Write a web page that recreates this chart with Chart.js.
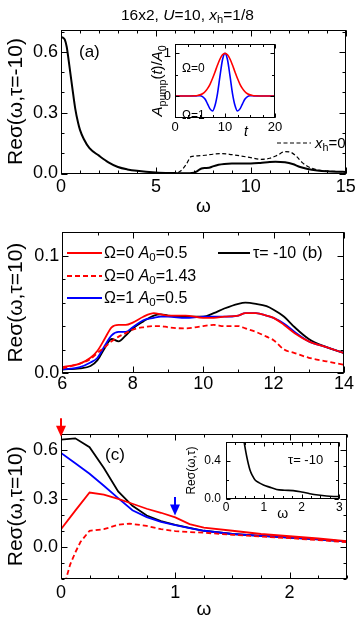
<!DOCTYPE html>
<html>
<head>
<meta charset="utf-8">
<title>Re sigma after pump</title>
<script src="https://cdn.jsdelivr.net/npm/chart.js@4.4.1/dist/chart.umd.min.js"></script>
<style>
  html, body { margin: 0; padding: 0; background: #fff; }
  body { position: relative; width: 357px; height: 625px; overflow: hidden;
         font-family: "Liberation Sans", Arial, Helvetica, sans-serif; color: #000; }
  .panel { position: absolute; }
  .txt { position: absolute; white-space: nowrap; line-height: 1; }
  .txt sub { font-size: 72%; vertical-align: -0.28em; line-height: 0; }
  .key { position: absolute; overflow: visible; }
</style>
</head>
<body>
  <div class="panel" style="left:0;top:0;width:357px;height:222px"><canvas id="chart-a"></canvas></div>
  <div class="panel" style="left:0;top:222px;width:357px;height:178px"><canvas id="chart-b"></canvas></div>
  <div class="panel" style="left:0;top:400px;width:357px;height:225px"><canvas id="chart-c"></canvas></div>
  <div class="panel" style="left:140px;top:35px;width:145px;height:105px"><canvas id="chart-pump"></canvas></div>
  <div class="panel" style="left:180px;top:438px;width:170px;height:85px"><canvas id="chart-inset"></canvas></div>

  <!-- title + panel (a) labels -->
  <div class="txt" style="left:121px;top:7px;font-size:15.5px">16x2, <i>U</i>=10, <i>x</i><sub>h</sub>=1/8</div>
  <div class="txt" style="left:79px;top:43px;font-size:17px">(a)</div>
  <div class="txt" style="left:182px;top:62px;font-size:12px">Ω=0</div>
  <div class="txt" style="left:182px;top:109px;font-size:12px">Ω=1</div>
  <div class="txt" style="left:244px;top:124px;font-size:14px"><i>t</i></div>
  <svg class="key" style="left:277px;top:139px" width="34" height="8"><line x1="0" y1="4" x2="34" y2="4" stroke="#000" stroke-width="1.2" stroke-dasharray="4 2.5"/></svg>
  <div class="txt" style="left:315px;top:135px;font-size:15px"><i>x</i><sub>h</sub>=0</div>

  <!-- panel (b) legend -->
  <svg class="key" style="left:67px;top:249px" width="35" height="8"><line x1="0" y1="4" x2="35" y2="4" stroke="#ff0000" stroke-width="2"/></svg>
  <div class="txt" style="left:104px;top:245px;font-size:16px">Ω=0 <i>A</i><sub>0</sub>=0.5</div>
  <svg class="key" style="left:67px;top:272px" width="35" height="8"><line x1="0" y1="4" x2="35" y2="4" stroke="#ff0000" stroke-width="2" stroke-dasharray="5 3"/></svg>
  <div class="txt" style="left:104px;top:268px;font-size:16px">Ω=0 <i>A</i><sub>0</sub>=1.43</div>
  <svg class="key" style="left:67px;top:294px" width="35" height="8"><line x1="0" y1="4" x2="35" y2="4" stroke="#0000ff" stroke-width="2"/></svg>
  <div class="txt" style="left:104px;top:290px;font-size:16px">Ω=1 <i>A</i><sub>0</sub>=0.5</div>
  <svg class="key" style="left:218px;top:249px" width="32" height="8"><line x1="0" y1="4" x2="32" y2="4" stroke="#000" stroke-width="2"/></svg>
  <div class="txt" style="left:253px;top:245px;font-size:16px">τ= -10</div>
  <div class="txt" style="left:302px;top:244px;font-size:17px">(b)</div>

  <!-- panel (c) labels -->
  <div class="txt" style="left:105px;top:446px;font-size:17px">(c)</div>
  <div class="txt" style="left:288px;top:453px;font-size:13px">τ= -10</div>

<script>
(function () {
  "use strict";

  const RED = "#ff0000";
  const BLUE = "#0000ff";
  const BLACK = "#000000";
  const FONT = '"Liberation Sans", Arial, Helvetica, sans-serif';

  /* ---- (a) equilibrium conductivity, tau = -10 ---- */
  const omegaA = [0, 0.1, 0.2, 0.3, 0.4, 0.5, 0.6, 0.75, 0.9, 1.0, 1.2, 1.5, 2.0, 2.5, 3.0, 3.5, 4.0, 5.0, 6.0, 6.5,
                  7.0, 7.2, 7.4, 7.6, 7.8, 8.0, 8.3, 8.6, 9.0, 9.5, 10.0, 10.5, 11.0, 11.3, 11.8, 12.2, 12.6, 13.0, 13.5, 14.0,
                  14.5, 15.0];
  const sigmaDoped = [0.672, 0.670, 0.66, 0.625, 0.56, 0.49, 0.42, 0.32, 0.25, 0.215, 0.17, 0.125, 0.088, 0.055, 0.032, 0.02, 0.013, 0.005, 0.002, 0.001,
                      0.004, 0.013, 0.025, 0.027, 0.028, 0.035, 0.043, 0.047, 0.049, 0.049, 0.049, 0.052, 0.057, 0.058, 0.055, 0.047, 0.032, 0.022, 0.015, 0.011,
                      0.009, 0.008];
  const omegaUndoped = [5.5, 6.0, 6.3, 6.6, 6.85, 7.2, 7.6, 8.0, 8.5, 9.0, 9.5, 10.0, 10.5, 11.0, 11.4, 11.8, 12.1, 12.4, 12.7, 13.0, 13.4, 14.0, 14.5, 15.0];
  const sigmaUndoped = [0.0, 0.001, 0.012, 0.045, 0.083, 0.087, 0.09, 0.095, 0.098, 0.093, 0.086, 0.078, 0.07, 0.075, 0.09, 0.108, 0.105, 0.085, 0.055, 0.035, 0.02, 0.012, 0.01, 0.009];

  /* ---- (a) inset: pump pulse shape ---- */
  const tPump = [0, 2, 4, 4.5, 5, 5.5, 6, 6.5, 7, 7.5, 8, 8.5, 9, 9.5, 10, 10.5, 11, 11.5, 12, 12.5, 13, 13.5, 14, 14.5, 15, 15.5, 16, 18, 20];
  const pumpW0 = [0, 0, 0.006, 0.013, 0.028, 0.055, 0.102, 0.174, 0.276, 0.41, 0.565, 0.725, 0.867, 0.965, 1, 0.965, 0.867, 0.725, 0.565, 0.41, 0.276, 0.174, 0.102, 0.055, 0.028, 0.013, 0.006, 0, 0];
  const pumpW1 = [0, 0, 0.004, 0.006, 0.006, -0.012, -0.07, -0.18, -0.30, -0.35, -0.22, 0.06, 0.47, 0.85, 1, 0.85, 0.47, 0.06, -0.22, -0.35, -0.30, -0.18, -0.07, -0.012, 0.006, 0.006, 0.004, 0, 0];
  // y title of the pump inset: text pieces with style flags
  const pumpTitle = [
    { t: "A", i: true }, { t: "pump", sub: true }, { t: "(" }, { t: "t", i: true }, { t: ")/" },
    { t: "A", i: true }, { t: "0", sub: true }
  ];

  /* ---- (b) tau = 10, high-frequency window ---- */
  const omegaB = [6.0, 6.5, 6.8, 7.0, 7.2, 7.4, 7.6, 7.8, 8.0, 8.3, 8.6, 8.8, 9.0, 9.5, 10.0, 10.3, 10.6, 11.0, 11.2, 11.5, 11.8, 12.0, 12.3, 12.6, 13.0, 13.5, 14.0];
  const sigmaBEquil = [0.003, 0.004, 0.006, 0.011, 0.021, 0.029, 0.027, 0.032, 0.038, 0.044, 0.049, 0.050, 0.049, 0.048, 0.048, 0.051, 0.055, 0.059, 0.060, 0.059, 0.057, 0.054, 0.048, 0.039, 0.029, 0.022, 0.017];
  const sigmaBW0A05 = [0.005, 0.008, 0.013, 0.019, 0.029, 0.039, 0.041, 0.041, 0.043, 0.048, 0.051, 0.050, 0.049, 0.049, 0.047, 0.047, 0.048, 0.049, 0.051, 0.051, 0.049, 0.047, 0.041, 0.034, 0.027, 0.022, 0.017];
  const sigmaBW0A143 = [0.004, 0.008, 0.012, 0.017, 0.022, 0.027, 0.031, 0.034, 0.037, 0.039, 0.040, 0.040, 0.039, 0.038, 0.040, 0.041, 0.040, 0.040, 0.038, 0.035, 0.031, 0.028, 0.020, 0.017, 0.013, 0.010, 0.007];
  const sigmaBW1A05 = [0.003, 0.005, 0.009, 0.013, 0.023, 0.032, 0.035, 0.035, 0.039, 0.045, 0.047, 0.048, 0.048, 0.047, 0.048, 0.048, 0.048, 0.049, 0.051, 0.051, 0.049, 0.047, 0.042, 0.035, 0.027, 0.022, 0.017];

  /* ---- (c) tau = 10, low-frequency window ---- */
  const omegaC = [0, 0.125, 0.25, 0.375, 0.5, 0.625, 0.75, 0.875, 1.0, 1.125, 1.25, 1.5, 1.75, 2.0, 2.25, 2.5];
  const sigmaCEquil = [0.667, 0.675, 0.62, 0.49, 0.345, 0.255, 0.195, 0.16, 0.137, 0.118, 0.10, 0.08, 0.068, 0.058, 0.046, 0.033];
  const sigmaCW0A05 = [0.11, 0.225, 0.338, 0.325, 0.298, 0.268, 0.237, 0.212, 0.183, 0.141, 0.12, 0.10, 0.08, 0.066, 0.052, 0.036];
  const sigmaCW1A05 = [0.584, 0.52, 0.455, 0.38, 0.303, 0.228, 0.185, 0.155, 0.135, 0.117, 0.10, 0.08, 0.068, 0.058, 0.046, 0.033];
  const omegaCDash = [0.02, 0.05, 0.08, 0.125, 0.17, 0.25, 0.375, 0.5, 0.6, 0.75, 0.875, 1.0, 1.125, 1.25, 1.5, 1.75, 2.0, 2.25, 2.5];
  const sigmaCW0A143 = [-0.27, -0.185, -0.11, -0.035, 0.03, 0.10, 0.11, 0.137, 0.145, 0.13, 0.11, 0.098, 0.092, 0.088, 0.075, 0.064, 0.054, 0.042, 0.029];

  /* ---- (c) inset: tau = -10 ---- */
  const omegaInset = [0.42, 0.48, 0.55, 0.635, 0.7, 0.77, 0.88, 0.99, 1.15, 1.34, 1.55, 1.78, 2.0, 2.22, 2.44, 2.66, 2.85, 3.0];
  const sigmaInset = [0.75, 0.6, 0.445, 0.305, 0.245, 0.2, 0.17, 0.148, 0.125, 0.10, 0.092, 0.088, 0.074, 0.056, 0.042, 0.032, 0.027, 0.025];

  /* ---- pump arrows in (c), in data units ---- */
  const arrowOmega = [0, 1];
  const arrowFrom = [0.80, 0.31];
  const arrowTo = [0.685, 0.195];
  const arrowColor = [RED, BLUE];

  Chart.defaults.font.family = FONT;
  Chart.defaults.color = "#000";
  Chart.defaults.animation = false;

  /* ---- Plugins ---- */
  const frame = {
    id: "frame",
    beforeDatasetsDraw(chart, args, o) {
      if (!o.fill) return;
      const a = chart.chartArea;
      chart.ctx.save();
      chart.ctx.fillStyle = "#fff";
      chart.ctx.fillRect(a.left, a.top, a.width, a.height);
      chart.ctx.restore();
    },
    afterDatasetsDraw(chart, args, o) {
      const { ctx, chartArea: a } = chart;
      const sx = chart.scales.x, sy = chart.scales.y;
      const L = Math.round(a.left) + 0.5, R = Math.round(a.right) - 0.5;
      const T = Math.round(a.top) + 0.5, B = Math.round(a.bottom) - 0.5;
      ctx.save();
      ctx.strokeStyle = "#000";
      ctx.lineWidth = 1;
      ctx.beginPath();
      const marks = (scale, step, len) => {
        const first = Math.ceil(scale.min / step - 1e-6);
        for (let i = first; i * step <= scale.max + 1e-9; i++) {
          const p = Math.round(scale.getPixelForValue(i * step)) + 0.5;
          if (scale.isHorizontal()) {
            ctx.moveTo(p, B); ctx.lineTo(p, B - len);
            ctx.moveTo(p, T); ctx.lineTo(p, T + len);
          } else {
            ctx.moveTo(L, p); ctx.lineTo(L + len, p);
            ctx.moveTo(R, p); ctx.lineTo(R - len, p);
          }
        }
      };
      marks(sx, o.xMinor, o.minorLen);
      marks(sx, sx.options.ticks.stepSize, o.majorLen);
      marks(sy, o.yMinor, o.minorLen);
      marks(sy, sy.options.ticks.stepSize, o.majorLen);
      ctx.stroke();
      ctx.strokeRect(L, T, R - L, B - T);
      ctx.restore();
    }
  };

  const arrows = {
    id: "arrows",
    afterDraw(chart, args, o) {
      if (!o.show) return;
      const { ctx, scales: { x, y } } = chart;
      arrowOmega.forEach((w, i) => {
        const px = Math.round(x.getPixelForValue(w));
        const top = y.getPixelForValue(arrowFrom[i]);
        const tip = y.getPixelForValue(arrowTo[i]);
        const head = 11, half = 5;
        ctx.save();
        ctx.strokeStyle = ctx.fillStyle = arrowColor[i];
        ctx.lineWidth = 2;
        ctx.beginPath();
        ctx.moveTo(px, top);
        ctx.lineTo(px, tip - head + 1);
        ctx.stroke();
        ctx.beginPath();
        ctx.moveTo(px - half, tip - head);
        ctx.lineTo(px + half, tip - head);
        ctx.lineTo(px, tip);
        ctx.closePath();
        ctx.fill();
        ctx.restore();
      });
    }
  };

  // rotated axis title with italics and subscripts, centred on the y scale
  const richTitle = {
    id: "richTitle",
    afterDraw(chart, args, o) {
      if (!o.show) return;
      const ctx = chart.ctx;
      const a = chart.chartArea;
      const size = o.size;
      const fontOf = p => (p.i ? "italic " : "") + (p.sub ? size * 0.72 : size) + "px " + FONT;
      ctx.save();
      let total = 0;
      pumpTitle.forEach(p => { ctx.font = fontOf(p); total += ctx.measureText(p.t).width; });
      ctx.translate(o.x, (a.top + a.bottom) / 2);
      ctx.rotate(-Math.PI / 2);
      ctx.fillStyle = "#000";
      ctx.textBaseline = "alphabetic";
      let cx = -total / 2;
      const base = size * 0.36;
      pumpTitle.forEach(p => {
        ctx.font = fontOf(p);
        ctx.fillText(p.t, cx, base + (p.sub ? size * 0.22 : 0));
        cx += ctx.measureText(p.t).width;
      });
      ctx.restore();
    }
  };

  /* ---- Helpers ---- */
  function pts(xs, ys) { return xs.map((v, i) => ({ x: v, y: ys[i] })); }

  function line(xs, ys, color, width, dash) {
    return {
      data: pts(xs, ys),
      borderColor: color,
      borderWidth: width,
      borderDash: dash || [],
      pointRadius: 0,
      fill: false,
      cubicInterpolationMode: "monotone",
      tension: 0.4
    };
  }

  function polyline(xs, ys, color, width, dash) {
    const d = line(xs, ys, color, width, dash);
    d.cubicInterpolationMode = "default";
    d.tension = 0;
    return d;
  }

  function axisX(o) {
    return {
      type: "linear", min: o.min, max: o.max,
      grid: { display: false, drawTicks: false },
      border: { display: false },
      ticks: { stepSize: o.step, includeBounds: false, autoSkip: false, maxRotation: 0, minRotation: 0,
               padding: o.pad, font: { size: o.font }, color: "#000",
               callback: v => v.toFixed(o.digits || 0) },
      title: o.title
        ? { display: true, text: o.title, color: "#000", font: { size: o.titleFont }, padding: { top: 0, bottom: o.titlePad } }
        : { display: false },
      afterFit: s => { s.height = o.size; s.paddingLeft = 0; s.paddingRight = 0; }
    };
  }

  function axisY(o) {
    return {
      type: "linear", min: o.min, max: o.max,
      grid: { display: false, drawTicks: false },
      border: { display: false },
      ticks: { stepSize: o.step, includeBounds: false, autoSkip: false,
               padding: o.pad, font: { size: o.font }, color: "#000",
               callback: v => v.toFixed(o.digits) },
      title: o.title
        ? { display: true, text: o.title, color: "#000", font: { size: o.titleFont }, padding: { top: o.titlePad, bottom: 0 } }
        : { display: false },
      afterFit: s => { s.width = o.size; s.paddingTop = 0; s.paddingBottom = 0; }
    };
  }

  function makeChart(id, datasets, x, y, padding, frameOpts, extra) {
    return new Chart(document.getElementById(id), {
      type: "line",
      data: { datasets: datasets },
      options: {
        responsive: true,
        maintainAspectRatio: false,
        animation: false,
        layout: { padding: padding },
        scales: { x: x, y: y },
        plugins: Object.assign({
          legend: { display: false },
          tooltip: { enabled: false },
          frame: frameOpts
        }, extra || {})
      },
      plugins: [frame, arrows, richTitle]
    });
  }

  /* ---- Panel (a) ---- */
  makeChart("chart-a",
    [
      line(omegaUndoped, sigmaUndoped, BLACK, 1.2, [4, 2.5]),
      line(omegaA, sigmaDoped, BLACK, 2)
    ],
    axisX({ min: 0, max: 15, step: 5, pad: 3, font: 18, size: 48.5, title: "ω", titleFont: 19, titlePad: 3.6 }),
    axisY({ min: 0, max: 0.71, step: 0.3, digits: 1, pad: 3, font: 18, size: 61, title: "Reσ(ω,τ=-10)", titleFont: 21, titlePad: 4 }),
    { left: 0, top: 29.5, right: 11.3, bottom: 0 },
    { xMinor: 1, yMinor: 0.1, minorLen: 3, majorLen: 6 }
  );

  /* ---- Panel (b) ---- */
  makeChart("chart-b",
    [
      line(omegaB, sigmaBW0A143, RED, 1.8, [5, 3]),
      line(omegaB, sigmaBW0A05, RED, 1.8),
      line(omegaB, sigmaBW1A05, BLUE, 1.8),
      line(omegaB, sigmaBEquil, BLACK, 1.8)
    ],
    axisX({ min: 6, max: 14, step: 2, pad: 0, font: 18, size: 27 }),
    axisY({ min: 0, max: 0.12, step: 0.1, digits: 1, pad: 3, font: 18, size: 62.3, title: "Reσ(ω,τ=10)", titleFont: 21, titlePad: 4 }),
    { left: 0, top: 10.3, right: 13, bottom: 0 },
    { xMinor: 1, yMinor: 0.02, minorLen: 3, majorLen: 6 }
  );

  /* ---- Panel (c) ---- */
  makeChart("chart-c",
    [
      polyline(omegaCDash, sigmaCW0A143, RED, 1.8, [5, 3]),
      polyline(omegaC, sigmaCW0A05, RED, 1.8),
      polyline(omegaC, sigmaCW1A05, BLUE, 1.8),
      polyline(omegaC, sigmaCEquil, BLACK, 1.8)
    ],
    axisX({ min: 0, max: 2.5, step: 1, pad: 3, font: 18, size: 46, title: "ω", titleFont: 19, titlePad: 3.6 }),
    axisY({ min: -0.2, max: 0.705, step: 0.3, digits: 1, pad: 3, font: 18, size: 61, title: "Reσ(ω,τ=10)", titleFont: 21, titlePad: 4 }),
    { left: 0, top: 33.5, right: 10.3, bottom: 0 },
    { xMinor: 0.25, yMinor: 0.1, minorLen: 3, majorLen: 6 },
    { arrows: { show: true } }
  );

  /* ---- Inset of (a): pump pulse ---- */
  makeChart("chart-pump",
    [
      line(tPump, pumpW0, RED, 1.6),
      line(tPump, pumpW1, BLUE, 1.6)
    ],
    axisX({ min: 0, max: 20, step: 10, pad: 1, font: 13, size: 21.7 }),
    axisY({ min: -0.52, max: 1.23, step: 1, digits: 0, pad: 4, font: 13, size: 35 }),
    { left: 0, top: 8.5, right: 10, bottom: 0 },
    { xMinor: 2.5, yMinor: 0.5, minorLen: 2.5, majorLen: 4, fill: true },
    { richTitle: { show: true, x: 17, size: 15 } }
  );

  /* ---- Inset of (c): tau = -10 ---- */
  makeChart("chart-inset",
    [
      line(omegaInset, sigmaInset, BLACK, 1.6)
    ],
    axisX({ min: 0, max: 3, step: 1, pad: 1, font: 12, size: 24, title: "ω", titleFont: 14, titlePad: 0 }),
    axisY({ min: 0, max: 0.6, step: 0.4, digits: 1, pad: 5, font: 12, size: 46, title: "Reσ(ω,τ)", titleFont: 12, titlePad: 4.8 }),
    { left: 0, top: 4, right: 10.7, bottom: 0 },
    { xMinor: 0.25, yMinor: 0.2, minorLen: 2.5, majorLen: 4, fill: true }
  );
})();
</script>
</body>
</html>
